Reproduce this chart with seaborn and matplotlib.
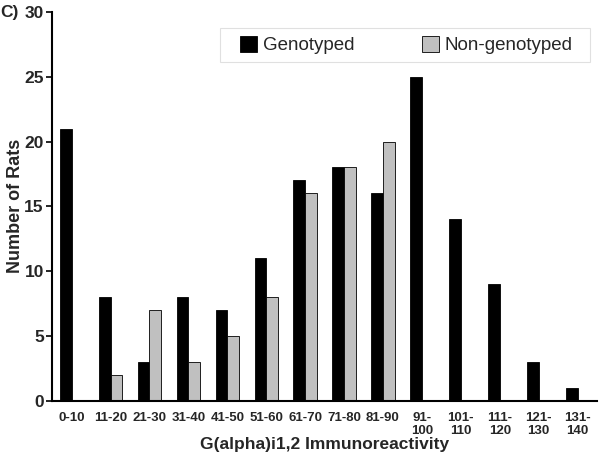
import matplotlib
import numpy as np
import pandas as pd
import seaborn as sns

matplotlib.use("Agg")
import matplotlib.pyplot as plt
from matplotlib.patches import Rectangle

# Data
bins = ["0-10", "11-20", "21-30", "31-40", "41-50", "51-60", "61-70",
        "71-80", "81-90", "91-\n100", "101-\n110", "111-\n120", "121-\n130", "131-\n140"]
genotyped = [21, 8, 3, 8, 7, 11, 17, 18, 16, 25, 14, 9, 3, 1]
non_genotyped = [0, 2, 7, 3, 5, 8, 16, 18, 20, 0, 0, 0, 0, 0]

sns.set_theme(style="white")
plt.rcParams["font.family"] = ["Liberation Sans", "DejaVu Sans"]

df = pd.DataFrame({
    "bin": bins * 2,
    "count": genotyped + non_genotyped,
    "group": ["Genotyped"] * len(bins) + ["Non-genotyped"] * len(bins),
})

fig = plt.figure(figsize=(6.0, 4.57), dpi=100)
ax = fig.add_axes([0.087, 0.123, 0.908, 0.851])

sns.barplot(
    data=df, x="bin", y="count", hue="group",
    palette={"Genotyped": "#000000", "Non-genotyped": "#c0c0c0"},
    width=0.6, edgecolor="#000000", linewidth=0.6, ax=ax,
)

ax.set_xlim(-0.5, len(bins) - 0.5)
ax.set_ylim(0, 30)
ax.set_yticks([0, 5, 10, 15, 20, 25, 30])
ax.set_yticklabels(["0", "5", "10", "15", "20", "25", "30"], fontsize=12.5, fontweight="bold")

# tick marks at category boundaries, labels at centers
ax.set_xticks(np.arange(len(bins)))
ax.set_xticklabels(bins, fontsize=9.5, fontweight="bold", linespacing=1.15)
ax.set_xticks(np.arange(len(bins) + 1) - 0.5, minor=True)
ax.tick_params(axis="x", which="major", length=0, pad=8)
ax.tick_params(axis="x", which="minor", length=4, width=1.2, direction="out", color="black")
ax.tick_params(axis="y", length=4, width=1.2, direction="out", color="black", pad=2, left=True)

for side in ["top", "right"]:
    ax.spines[side].set_visible(False)
for side in ["left", "bottom"]:
    ax.spines[side].set_color("black")
    ax.spines[side].set_linewidth(1.5)

ax.set_xlabel("G(alpha)i1,2 Immunoreactivity", fontsize=12.5, fontweight="bold", labelpad=0)
ax.set_ylabel("Number of Rats", fontsize=13, fontweight="bold", labelpad=0)

fig.text(0.0, 0.973, "C)", fontsize=12.5, fontweight="bold", va="center", ha="left")

# legend box is wider than its contents in the reference, so draw the frame separately
ax.add_patch(Rectangle((0.367, 0.864), 0.617, 0.074, transform=fig.transFigure,
                       facecolor="white", edgecolor="#e0e0e0", linewidth=0.8,
                       zorder=5, clip_on=False))
leg = ax.legend(
    loc="center", bbox_to_anchor=(0.677, 0.901), bbox_transform=fig.transFigure,
    ncol=2, fontsize=13.5, frameon=False, handlelength=0.9, handleheight=0.9,
    handletextpad=0.3, columnspacing=3.6,
)
leg.set_zorder(6)

fig.savefig("out.png", dpi=100)
